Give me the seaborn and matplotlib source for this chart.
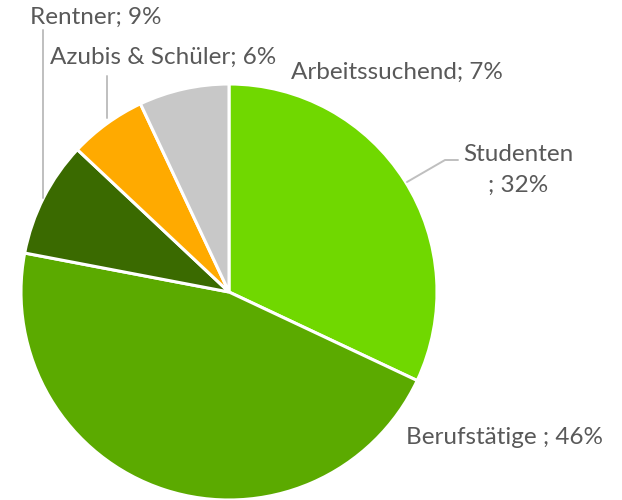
import matplotlib
matplotlib.use("Agg")
import matplotlib.pyplot as plt
import seaborn as sns

sns.set_theme(style='white')
plt.rcParams['font.family'] = ['Lato', 'DejaVu Sans']

# data
categories = ['Studenten', 'Berufstätige ', 'Rentner', 'Azubis & Schüler', 'Arbeitssuchend']
shares = [32, 46, 9, 6, 7]
colors = ['#70D800', '#5BAA00', '#3A6A00', '#FFAA00', '#C8C8C8']

W, H = 622, 500
fig = plt.figure(figsize=(W / 100, H / 100), dpi=100)
ax = fig.add_axes([0, 0, 1, 1])

# pie in pixel space (y upwards)
cx, cy, r = 229, H - 292, 208
wedges, _ = ax.pie(shares, colors=colors, startangle=90, counterclock=False,
                   center=(cx, cy), radius=r,
                   wedgeprops=dict(edgecolor='white', linewidth=2.2))
ax.set_xlim(0, W)
ax.set_ylim(0, H)
ax.set_aspect('equal')
ax.axis('off')

txt = dict(color='#595959', fontsize=17.5)
line = dict(color='#BFBFBF', lw=1.4)

# labels
ax.text(30, H - 17, f"{categories[2]}; {shares[2]}%", ha='left', va='center', **txt)
ax.text(50, H - 57, f"{categories[3]}; {shares[3]}%", ha='left', va='center', **txt)
ax.text(291, H - 72, f"{categories[4]}; {shares[4]}%", ha='left', va='center', **txt)
ax.text(518, H - 170, f"{categories[0]}\n; {shares[0]}%", ha='center', va='center',
        linespacing=1.55, **txt)
ax.text(406, H - 437, f"{categories[1]}; {shares[1]}%", ha='left', va='center', **txt)

# leader lines
ax.plot([43, 43], [H - 30, H - 198], **line)
ax.plot([107, 107], [H - 76, H - 118], **line)
ax.plot([407, 445, 458], [H - 182, H - 160, H - 160], **line)

fig.savefig('out.png', dpi=100, facecolor='white')
